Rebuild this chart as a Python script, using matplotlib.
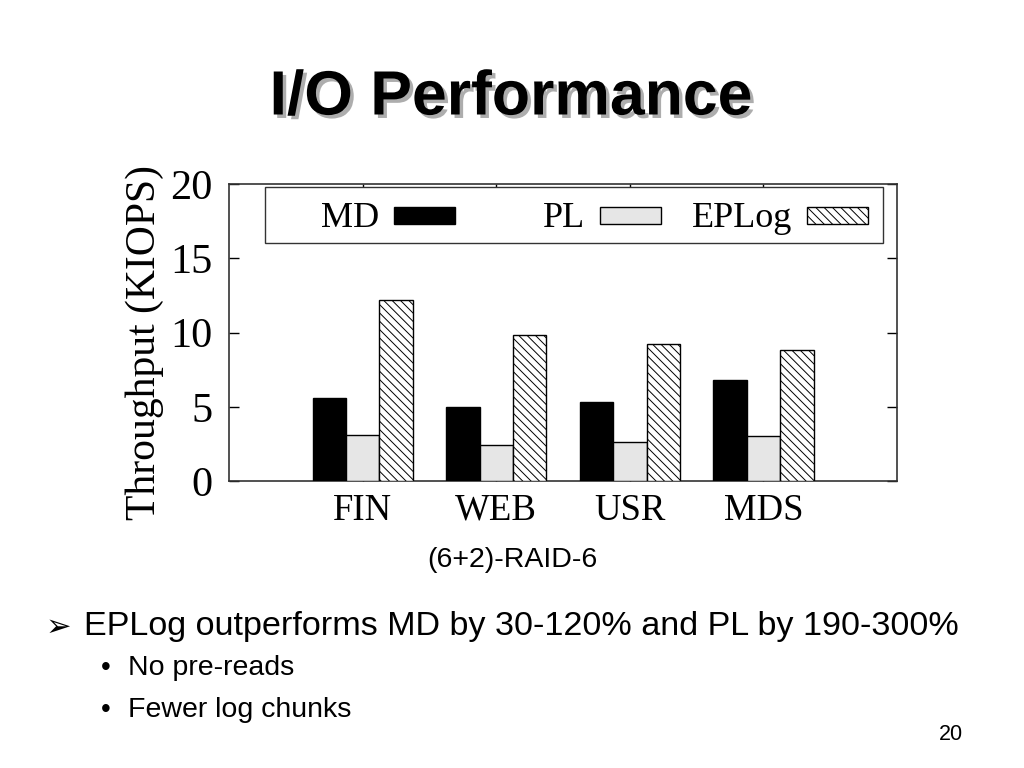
import matplotlib
matplotlib.use("Agg")
import matplotlib.pyplot as plt
import matplotlib.patheffects as pe
from matplotlib.patches import Rectangle
import numpy as np

categories = ["FIN", "WEB", "USR", "MDS"]
series_names = ["MD", "PL", "EPLog"]
md_values = [5.6, 5.0, 5.3, 6.8]
pl_values = [3.1, 2.45, 2.65, 3.05]
eplog_values = [12.2, 9.85, 9.25, 8.8]
y_ticks = [0, 5, 10, 15, 20]

series_values = [md_values, pl_values, eplog_values]
styles = [
    dict(facecolor="black", edgecolor="black", hatch=None),
    dict(facecolor="#e6e6e6", edgecolor="black", hatch=None),
    dict(facecolor="white", edgecolor="black", hatch="\\\\\\\\"),
]

serif = ["Liberation Serif", "DejaVu Serif"]
sans = ["Liberation Sans", "DejaVu Sans"]
plt.rcParams["hatch.linewidth"] = 0.7
plt.rcParams["hatch.color"] = "#444444"

fig = plt.figure(figsize=(10.24, 7.68), dpi=100)
ax = fig.add_axes([229 / 1024, 1 - 481 / 768, 668 / 1024, 297 / 768])

x = np.arange(len(categories))
width = 0.25
for i, (name, vals, st) in enumerate(zip(series_names, series_values, styles)):
    ax.bar(x + (i - 1) * width, vals, width, facecolor=st["facecolor"],
           edgecolor=st["edgecolor"], hatch=st["hatch"], linewidth=1.0,
           label=name, zorder=3)

ax.set_xlim(-1, 4)
ax.set_ylim(0, 20)
ax.set_yticks(y_ticks)
ax.set_xticks(x)
ax.set_xticklabels(categories, fontfamily=serif, fontsize=26.5)
for lab in ax.get_yticklabels():
    lab.set_fontfamily(serif)
    lab.set_fontsize(30.5)
ax.tick_params(axis="y", direction="in", length=7, width=1, right=True, pad=12)
ax.tick_params(axis="x", direction="in", length=6, width=1, top=True, pad=9)
for s in ax.spines.values():
    s.set_linewidth(1.2)
    s.set_color("#333333")
ax.set_ylabel("Throughput (KIOPS)", fontfamily=serif, fontsize=30)
ax.yaxis.set_label_coords(-0.098, 0.465)

# legend box (gnuplot style: text right-justified before the sample)
def to_ax(px, py):
    return ((px - 229) / 668, (481 - py) / 297)

x0, y0 = to_ax(265, 243)
x1, y1 = to_ax(883, 187)
ax.add_patch(Rectangle((x0, y0), x1 - x0, y1 - y0, transform=ax.transAxes,
                       facecolor="white", edgecolor="#333333", linewidth=1.0,
                       zorder=5, clip_on=False))
swatch_left = [394, 600, 807]
for name, st, sl in zip(series_names, styles, swatch_left):
    sx0, sy0 = to_ax(sl, 224)
    sx1, sy1 = to_ax(sl + 61, 207)
    ax.add_patch(Rectangle((sx0, sy0), sx1 - sx0, sy1 - sy0, transform=ax.transAxes,
                           facecolor=st["facecolor"], edgecolor="black",
                           hatch=st["hatch"], linewidth=1.0, zorder=6, clip_on=False))
    tx, ty = to_ax(sl - 15, 227)
    ax.text(tx, ty, name, transform=ax.transAxes, ha="right", va="baseline",
            fontfamily=serif, fontsize=26, zorder=6)

# slide texts
fig.text(511 / 1024, 1 - 98 / 768, "I/O Performance", ha="center", va="center",
         fontfamily=sans, fontweight="bold", fontsize=45,
         path_effects=[pe.SimplePatchShadow(offset=(2.5, -2.5), shadow_rgbFace="#999999", alpha=0.8),
                       pe.Normal()])
fig.text(512 / 1024, 1 - 560 / 768, "(6+2)-RAID-6", ha="center", va="center",
         fontfamily=sans, fontsize=20.5)
fig.text(46 / 1024, 1 - 627 / 768, "\u27a2", ha="left", va="center",
         fontfamily=["DejaVu Sans"], fontsize=22)
fig.text(84 / 1024, 1 - 627 / 768, "EPLog outperforms MD by 30-120% and PL by 190-300%",
         ha="left", va="center", fontfamily=sans, fontsize=24.6)
fig.text(101 / 1024, 1 - 668 / 768, "\u2022", ha="left", va="center",
         fontfamily=sans, fontsize=20)
fig.text(128 / 1024, 1 - 668 / 768, "No pre-reads", ha="left", va="center",
         fontfamily=sans, fontsize=20.5)
fig.text(101 / 1024, 1 - 710 / 768, "\u2022", ha="left", va="center",
         fontfamily=sans, fontsize=20)
fig.text(128 / 1024, 1 - 710 / 768, "Fewer log chunks", ha="left", va="center",
         fontfamily=sans, fontsize=20.5)
fig.text(951 / 1024, 1 - 735 / 768, "20", ha="center", va="center",
         fontfamily=sans, fontsize=15.5)

fig.savefig("out.png", dpi=100)
